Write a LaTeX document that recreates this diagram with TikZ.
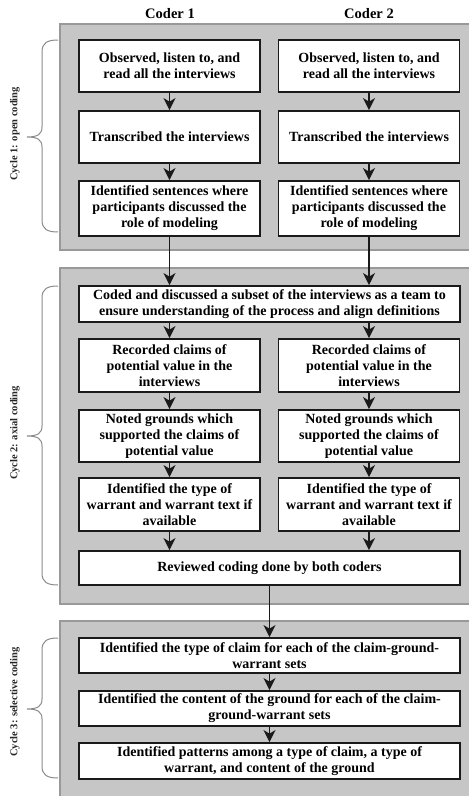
\documentclass[tikz,border=0pt]{standalone}
\usepackage{fontspec}
\setmainfont{Liberation Serif}
\usetikzlibrary{arrows.meta}
\definecolor{panelfill}{HTML}{C6C6C6}
\definecolor{paneldraw}{HTML}{999999}
\definecolor{boxdraw}{HTML}{1A1A1A}
\definecolor{bracecol}{HTML}{8A8A8A}
\newcommand\cyclebrace[3]{%
  \draw[bracestyle] (58,#1) .. controls (47,#1) and (42,#1+3) .. (42,#1+12) -- (42,#2-10)
    .. controls (42,#2-3) and (38,#2) .. (27,#2)
    .. controls (38,#2) and (42,#2+3) .. (42,#2+10) -- (42,#3-12)
    .. controls (42,#3-3) and (47,#3) .. (58,#3);}
\begin{document}
\begin{tikzpicture}[x=1pt,y=-1pt,
  panel/.style={fill=panelfill,draw=paneldraw,line width=2pt},
  box/.style={draw=boxdraw,fill=white,line width=1.8pt,align=center,inner sep=1pt,
    font=\fontsize{14}{16}\selectfont\bfseries},
  colbox/.style={box,minimum width=181pt},
  widebox/.style={box,minimum width=381pt},
  arr/.style={line width=1.8pt,draw=boxdraw,-{Stealth[length=12pt,width=12pt,inset=3.5pt]}},
  bracestyle/.style={draw=bracecol,line width=1pt},
  cyclelabel/.style={rotate=90,font=\fontsize{10.5}{12}\selectfont\bfseries,text=black!85},
  header/.style={font=\fontsize{14.5}{16}\selectfont\bfseries}]
\useasboundingbox (0,0) rectangle (469,796);
% panels
\draw[panel] (60,24) rectangle (475,250);
\draw[panel] (60,268) rectangle (475,604);
\draw[panel] (60,621) rectangle (475,800);
% headers
\node[header] (h1) at (170,14) {Coder 1};
\node[header] (h2) at (369,14) {Coder 2};
% cycle 1
\node[colbox,minimum height=52pt] (c1a) at (169.5,66) {Observed, listen to, and\\read all the interviews};
\node[colbox,minimum height=52pt] (c2a) at (369,66) {Observed, listen to, and\\read all the interviews};
\node[colbox,minimum height=52pt] (c1b) at (169.5,137) {Transcribed the interviews};
\node[colbox,minimum height=52pt] (c2b) at (369,137) {Transcribed the interviews};
\node[colbox,minimum height=55pt] (c1c) at (169.5,208.5) {Identified sentences where\\participants discussed the\\role of modeling};
\node[colbox,minimum height=55pt] (c2c) at (369,208.5) {Identified sentences where\\participants discussed the\\role of modeling};
% cycle 2
\node[widebox,minimum height=36pt] (team) at (269.5,304) {Coded and discussed a subset of the interviews as a team to\\ensure understanding of the process and align definitions};
\node[colbox,minimum height=53pt] (r1) at (169.5,365.5) {Recorded claims of\\potential value in the\\interviews};
\node[colbox,minimum height=53pt] (r2) at (369,365.5) {Recorded claims of\\potential value in the\\interviews};
\node[colbox,minimum height=52pt] (n1) at (169.5,436) {Noted grounds which\\supported the claims of\\potential value};
\node[colbox,minimum height=52pt] (n2) at (369,436) {Noted grounds which\\supported the claims of\\potential value};
\node[colbox,minimum height=53pt] (w1) at (169.5,504.5) {Identified the type of\\warrant and warrant text if\\available};
\node[colbox,minimum height=53pt] (w2) at (369,504.5) {Identified the type of\\warrant and warrant text if\\available};
\node[widebox,minimum height=34pt] (rev) at (269.5,568) {Reviewed coding done by both coders};
% cycle 3
\node[widebox,minimum height=35pt] (s1) at (269.5,655.5) {Identified the type of claim for each of the claim-ground-\\warrant sets};
\node[widebox,minimum height=35pt] (s2) at (269.5,708.5) {Identified the content of the ground for each of the claim-\\ground-warrant sets};
\node[widebox,minimum height=36pt] (s3) at (269.5,761) {Identified patterns among a type of claim, a type of\\warrant, and content of the ground};
% arrows
\draw[arr] (c1a) -- (c1b);
\draw[arr] (c2a) -- (c2b);
\draw[arr] (c1b) -- (c1c);
\draw[arr] (c2b) -- (c2c);
\draw[arr] (c1c.south) -- (c1c.south |- team.north);
\draw[arr] (c2c.south) -- (c2c.south |- team.north);
\draw[arr] (r1.north |- team.south) -- (r1.north);
\draw[arr] (r2.north |- team.south) -- (r2.north);
\draw[arr] (r1) -- (n1);
\draw[arr] (r2) -- (n2);
\draw[arr] (n1) -- (w1);
\draw[arr] (n2) -- (w2);
\draw[arr] (w1.south) -- (w1.south |- rev.north);
\draw[arr] (w2.south) -- (w2.south |- rev.north);
\draw[arr] (rev) -- (s1);
\draw[arr] (s1) -- (s2);
\draw[arr] (s2) -- (s3);
% braces and labels
\cyclebrace{40}{137}{232}
\cyclebrace{286}{436}{585}
\cyclebrace{638}{709}{778}
\node[cyclelabel] (l1) at (15,134) {Cycle 1: open coding};
\node[cyclelabel] (l2) at (15,433) {Cycle 2: axial coding};
\node[cyclelabel] (l3) at (15,702) {Cycle 3: selective coding};
\end{tikzpicture}
\end{document}
